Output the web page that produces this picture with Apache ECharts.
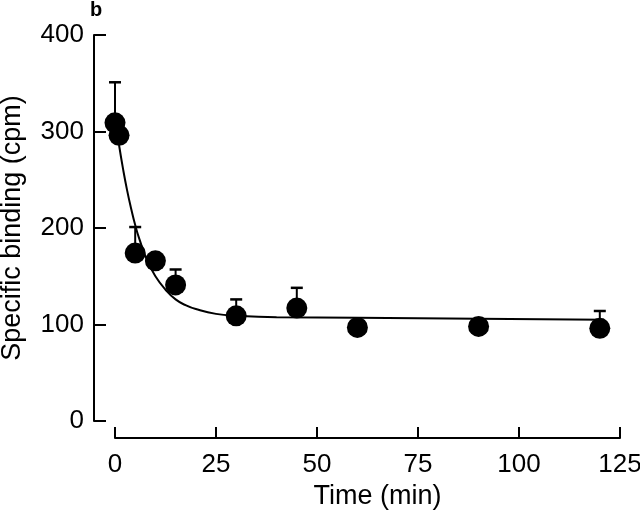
<!DOCTYPE html>
<html>
<head>
<meta charset="utf-8">
<script src="https://cdn.jsdelivr.net/npm/echarts@6/dist/echarts.min.js"></script>
<style>
html,body{margin:0;padding:0;background:#fff;}
#chart{width:640px;height:511px;}
</style>
</head>
<body>
<div id="chart"></div>
<script>
// Data
const times = [0, 1, 5, 10, 15, 30, 45, 60, 90, 120];
const binding = [309, 296, 174, 166, 141, 109, 117, 97, 98, 96];
// upper end of the error bars (null = none visible)
const errorTop = [351, 310, 201, null, 157, 126, 138, null, null, 114];
// fitted curve
const curveT = [1, 2, 3, 4, 5, 6, 8, 10, 12.5, 15, 17.5, 20, 25, 30, 40, 60, 90, 121];
const curveV = [286, 261, 239, 220, 203, 189, 166, 150, 136, 126, 120, 116, 111, 109, 107.5, 107, 106, 105];
const xTicks = [0, 25, 50, 75, 100, 125];
const yTicks = [0, 100, 200, 300, 400];

const FONT = 'Liberation Sans, Arial, sans-serif';
const chart = echarts.init(document.getElementById('chart'));

const scatterData = times.map((t, i) => [t, binding[i]]);
const errData = [];
times.forEach((t, i) => { if (errorTop[i] != null) errData.push([t, binding[i], errorTop[i]]); });
const curveData = curveT.map((t, i) => [t, curveV[i]]);

chart.setOption({
  animation: false,
  backgroundColor: '#fff',
  grid: { left: 115, right: 20, top: 35, bottom: 90, containLabel: false, outerBoundsMode: 'none' },
  xAxis: {
    type: 'value', min: xTicks[0], max: xTicks[xTicks.length - 1], interval: 25,
    offset: 17,
    name: 'Time (min)', nameLocation: 'middle', nameGap: 44,
    nameTextStyle: { fontFamily: FONT, fontSize: 27, color: '#000', padding: [0, 0, 0, 20] },
    axisLine: { onZero: false, lineStyle: { color: '#000', width: 2 } },
    axisTick: { inside: true, length: 11, lineStyle: { color: '#000', width: 2 } },
    axisLabel: { fontFamily: FONT, fontSize: 26, color: '#000', margin: 14 },
    splitLine: { show: false }
  },
  yAxis: {
    type: 'value', min: yTicks[0], max: yTicks[yTicks.length - 1], interval: 100,
    offset: 21,
    name: 'Specific binding (cpm)', nameLocation: 'middle', nameGap: 68,
    nameTextStyle: { fontFamily: FONT, fontSize: 27, color: '#000' },
    axisLine: { show: true, onZero: false, lineStyle: { color: '#000', width: 2 } },
    axisTick: { show: true, inside: true, length: 12, lineStyle: { color: '#000', width: 2 } },
    axisLabel: { fontFamily: FONT, fontSize: 26, color: '#000', margin: 10 },
    splitLine: { show: false }
  },
  graphic: [{
    type: 'text', left: 90, top: 0,
    style: { text: 'b', fontFamily: FONT, fontWeight: 'bold', fontSize: 20, fill: '#000' }
  }],
  series: [
    {
      type: 'line', data: curveData, smooth: true, showSymbol: false, symbol: 'none',
      lineStyle: { color: '#000', width: 2 }, z: 2
    },
    {
      type: 'custom', data: errData, z: 3,
      renderItem: function (params, api) {
        const p0 = api.coord([api.value(0), api.value(1)]);
        const p1 = api.coord([api.value(0), api.value(2)]);
        const hw = 6;
        return {
          type: 'group',
          children: [
            { type: 'line', shape: { x1: p0[0], y1: p0[1], x2: p1[0], y2: p1[1] }, style: { stroke: '#000', lineWidth: 2 } },
            { type: 'line', shape: { x1: p1[0] - hw, y1: p1[1], x2: p1[0] + hw, y2: p1[1] }, style: { stroke: '#000', lineWidth: 2.5 } }
          ]
        };
      }
    },
    {
      type: 'scatter', data: scatterData, symbol: 'circle', symbolSize: 21,
      itemStyle: { color: '#000', opacity: 1 }, z: 4
    }
  ]
});
</script>
</body>
</html>
